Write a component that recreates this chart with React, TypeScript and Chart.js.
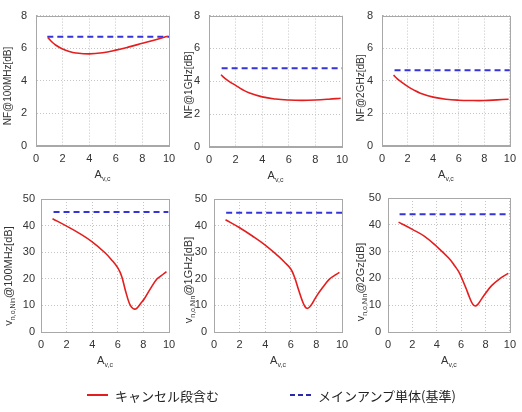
import React, { useEffect, useRef } from "react";
import { Chart, registerables } from "chart.js";

Chart.register(...registerables);

// ---------------- data ----------------
const nfX = [0.9, 1.2, 1.5, 2, 2.5, 3, 4, 5, 6, 7, 8, 9, 9.9];
const nf100Cancel = [6.65, 6.38, 6.18, 5.95, 5.8, 5.71, 5.65, 5.72, 5.88, 6.08, 6.3, 6.52, 6.73];
const nf1gCancel = [4.4, 4.18, 4.0, 3.75, 3.5, 3.3, 3.05, 2.92, 2.86, 2.84, 2.86, 2.91, 2.97];
const nf2gCancel = [4.35, 4.12, 3.93, 3.66, 3.43, 3.24, 3.0, 2.87, 2.81, 2.79, 2.79, 2.83, 2.87];

const nf100MainX = [0.85, 10];
const nf100Main = [6.7, 6.7];
const nf1gMainX = [0.95, 10];
const nf1gMain = [4.8, 4.8];
const nf2gMainX = [0.98, 10];
const nf2gMain = [4.65, 4.65];

const v100X = [0.9, 2, 3, 4, 5, 5.5, 6, 6.3, 6.6, 6.9, 7.1, 7.3, 7.5, 7.8, 8.1, 8.6, 9.04, 9.4, 9.8];
const v100Cancel = [42.6, 39.8, 37.1, 33.9, 29.8, 27.2, 24.1, 21.0, 15.5, 10.8, 9.2, 8.6, 9.0, 10.8, 12.7, 16.7, 19.8, 21.2, 22.7];
const v1gX = [0.9, 2, 3, 4, 5, 5.5, 6, 6.3, 6.6, 6.9, 7.1, 7.25, 7.45, 7.7, 8, 8.5, 9, 9.4, 9.8];
const v1gCancel = [42.2, 39.2, 36.1, 32.7, 28.6, 26.3, 23.7, 20.5, 16.0, 11.7, 9.6, 8.9, 9.3, 10.9, 13.4, 16.8, 19.8, 21.2, 22.4];
const v2gX = [0.87, 2, 3, 4, 5, 5.5, 5.8, 6.1, 6.4, 6.7, 6.95, 7.15, 7.35, 7.6, 7.9, 8.5, 9.2, 9.87];
const v2gCancel = [41.0, 38.3, 35.7, 31.9, 27.5, 24.5, 22.5, 19.6, 16.3, 12.8, 10.4, 9.7, 10.2, 11.8, 13.8, 17.3, 20.0, 21.9];

const v100MainX = [0.98, 9.95];
const v100Main = [45.1, 45.1];
const v1gMainX = [0.95, 10];
const v1gMain = [44.8, 44.8];
const v2gMainX = [0.95, 10];
const v2gMain = [43.9, 43.9];

const xMin = 0;
const xMax = 10;
const xStep = 2;
const nfMax = 8;
const nfStep = 2;
const vMax = 50;
const vStep = 10;

const legendCancel = "キャンセル段含む";
const legendMain = "メインアンプ単体(基準)";

// ---------------- styles ----------------
const W = 522;
const H = 412;
const RED = "#e41e1e";
const BLUE = "#3434d8";
const FRAME = "#a8a8a8";
const GRID = "#c4c4c4";
const TEXT = "#333333";
const FONT = '"Liberation Sans", Arial, sans-serif';

type Part = { t: string; sub?: boolean };

type PanelDef = {
  plot: { left: number; right: number; top: number; bottom: number };
  cx: number[];
  cy: number[];
  mx: number[];
  my: number[];
  yMax: number;
  yStep: number;
  yTitle: Part[];
  yTitleX: number;
  yTitleY: number;
  yTitleSize: number;
  yPad: number;
};

const nfTitle = (f: string): Part[] => [{ t: `NF@${f}[dB]` }];
const vTitle = (f: string): Part[] => [{ t: "v" }, { t: "n,o,Nin", sub: true }, { t: `@${f}[dB]` }];
const xTitle: Part[] = [{ t: "A" }, { t: "v,c", sub: true }];

const panels: PanelDef[] = [
  { plot: { left: 36, right: 169, top: 11, bottom: 146 }, cx: nfX, cy: nf100Cancel, mx: nf100MainX, my: nf100Main, yMax: nfMax, yStep: nfStep, yTitle: nfTitle("100MHz"), yTitleX: 8, yTitleY: 86, yTitleSize: 10, yPad: 9 },
  { plot: { left: 209, right: 342, top: 13, bottom: 147 }, cx: nfX, cy: nf1gCancel, mx: nf1gMainX, my: nf1gMain, yMax: nfMax, yStep: nfStep, yTitle: nfTitle("1GHz"), yTitleX: 189, yTitleY: 85, yTitleSize: 10, yPad: 9 },
  { plot: { left: 382, right: 515, top: 12, bottom: 146 }, cx: nfX, cy: nf2gCancel, mx: nf2gMainX, my: nf2gMain, yMax: nfMax, yStep: nfStep, yTitle: nfTitle("2GHz"), yTitleX: 361, yTitleY: 88, yTitleSize: 10, yPad: 9 },
  { plot: { left: 41, right: 169, top: 199, bottom: 332 }, cx: v100X, cy: v100Cancel, mx: v100MainX, my: v100Main, yMax: vMax, yStep: vStep, yTitle: vTitle("100MHz"), yTitleX: 9, yTitleY: 276, yTitleSize: 11, yPad: 6 },
  { plot: { left: 214, right: 342, top: 199, bottom: 332 }, cx: v1gX, cy: v1gCancel, mx: v1gMainX, my: v1gMain, yMax: vMax, yStep: vStep, yTitle: vTitle("1GHz"), yTitleX: 189, yTitleY: 280, yTitleSize: 11, yPad: 7 },
  { plot: { left: 388, right: 515, top: 198, bottom: 332 }, cx: v2gX, cy: v2gCancel, mx: v2gMainX, my: v2gMain, yMax: vMax, yStep: vStep, yTitle: vTitle("2Gz"), yTitleX: 361, yTitleY: 282, yTitleSize: 11, yPad: 7 },
];

function drawRich(ctx: CanvasRenderingContext2D, parts: Part[], cx: number, cy: number, rot: number, size: number) {
  ctx.save();
  ctx.translate(cx, cy);
  ctx.rotate(rot);
  ctx.fillStyle = TEXT;
  ctx.textBaseline = "middle";
  ctx.textAlign = "left";
  const subSize = Math.round(size * 0.65);
  const widths = parts.map((p) => {
    ctx.font = `${p.sub ? subSize : size}px ${FONT}`;
    return ctx.measureText(p.t).width;
  });
  const total = widths.reduce((s, w) => s + w, 0);
  let x = -total / 2;
  parts.forEach((p, i) => {
    ctx.font = `${p.sub ? subSize : size}px ${FONT}`;
    ctx.fillText(p.t, x, p.sub ? size * 0.35 : 0);
    x += widths[i];
  });
  ctx.restore();
}

function Panel({ def }: { def: PanelDef }) {
  const ref = useRef<HTMLCanvasElement | null>(null);
  useEffect(() => {
    const canvas = ref.current;
    if (!canvas) return;
    const p = def.plot;
    const decor = {
      id: "panelDecor",
      beforeDatasetsDraw(chart: any) {
        const { ctx, chartArea: a } = chart;
        ctx.save();
        ctx.strokeStyle = FRAME;
        ctx.lineWidth = 1;
        ctx.strokeRect(Math.round(a.left) + 0.5, Math.round(a.top) + 0.5, Math.round(a.right - a.left), Math.round(a.bottom - a.top));
        ctx.restore();
      },
      afterDraw(chart: any) {
        const { ctx, chartArea: a } = chart;
        drawRich(ctx, xTitle, (a.left + a.right) / 2, a.bottom + 29, 0, 11);
        drawRich(ctx, def.yTitle, def.yTitleX, def.yTitleY, -Math.PI / 2, def.yTitleSize);
      },
    };
    const chart = new Chart(canvas, {
      type: "line",
      data: {
        datasets: [
          {
            label: legendCancel,
            data: def.cx.map((x, i) => ({ x, y: def.cy[i] })),
            borderColor: RED,
            borderWidth: 1.6,
            pointRadius: 0,
            tension: 0.4,
            fill: false,
          },
          {
            label: legendMain,
            data: def.mx.map((x, i) => ({ x, y: def.my[i] })),
            borderColor: BLUE,
            borderWidth: 2,
            borderDash: [6, 4],
            pointRadius: 0,
            fill: false,
          },
        ],
      },
      options: {
        responsive: false,
        animation: false,
        devicePixelRatio: 1,
        layout: { padding: { left: 0, top: p.top, right: W - p.right, bottom: 0 } },
        plugins: { legend: { display: false }, tooltip: { enabled: false } },
        scales: {
          x: {
            type: "linear",
            min: xMin,
            max: xMax,
            ticks: { stepSize: xStep, color: TEXT, font: { family: FONT, size: 11 }, padding: 6 },
            grid: { color: GRID, drawTicks: false },
            border: { display: true, color: FRAME, dash: [1, 2] },
            afterFit: (s: any) => {
              s.height = H - p.bottom;
            },
          },
          y: {
            type: "linear",
            min: 0,
            max: def.yMax,
            ticks: { stepSize: def.yStep, color: TEXT, font: { family: FONT, size: 11 }, padding: def.yPad },
            grid: { color: GRID, drawTicks: false },
            border: { display: true, color: FRAME, dash: [1, 2] },
            afterFit: (s: any) => {
              s.width = p.left;
            },
          },
        },
      },
      plugins: [decor],
    } as any);
    return () => chart.destroy();
  }, [def]);
  return (
    <canvas
      ref={ref}
      width={W}
      height={H}
      style={{ position: "absolute", left: 0, top: 0, width: W, height: H }}
    />
  );
}

export default function App() {
  return (
    <div style={{ position: "absolute", left: 0, top: 0, width: W, height: H, background: "#fff", overflow: "hidden" }}>
      {panels.map((d, i) => (
        <Panel key={i} def={d} />
      ))}
      <div
        style={{
          position: "absolute",
          left: 87,
          top: 386,
          height: 18,
          display: "flex",
          alignItems: "center",
          fontFamily: '"Noto Sans CJK JP", sans-serif',
          fontSize: 13,
          color: "#222",
          whiteSpace: "nowrap",
        }}
      >
        <span style={{ display: "inline-block", width: 21, height: 0, borderTop: `2px solid ${RED}`, marginRight: 7 }} />
        <span style={{ width: 175 }}>{legendCancel}</span>
        <span style={{ display: "inline-flex", width: 21, justifyContent: "space-between", marginRight: 7 }}>
          <span style={{ display: "inline-block", width: 5, height: 0, borderTop: "2px solid #2a2aa8" }} />
          <span style={{ display: "inline-block", width: 5, height: 0, borderTop: "2px solid #2a2aa8" }} />
          <span style={{ display: "inline-block", width: 5, height: 0, borderTop: "2px solid #2a2aa8" }} />
        </span>
        <span>{legendMain}</span>
      </div>
    </div>
  );
}
